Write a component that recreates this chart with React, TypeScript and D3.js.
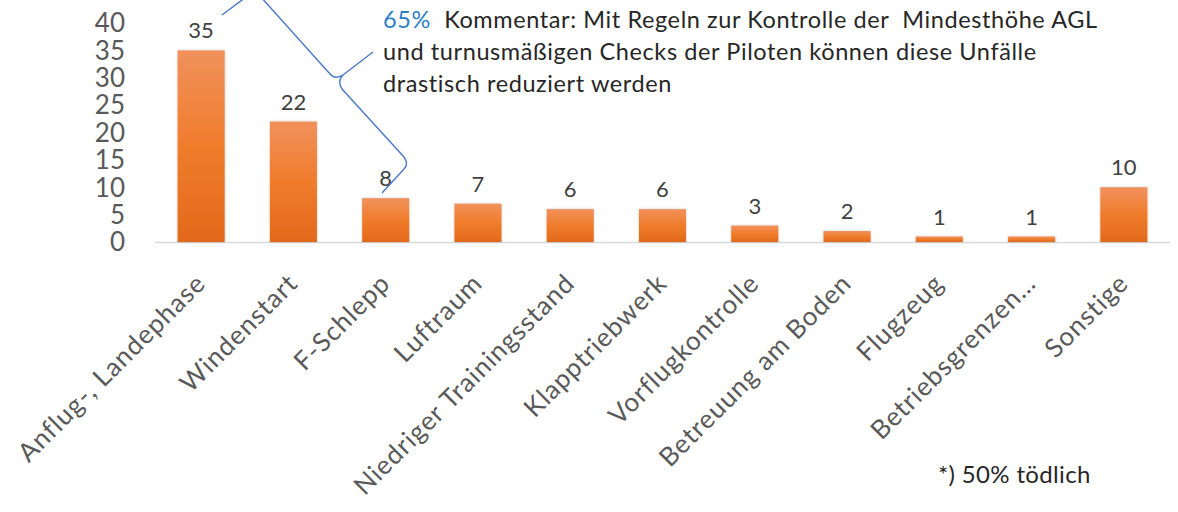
import { useEffect, useRef } from 'react';
import * as d3 from 'd3';

const categories = [
  'Anflug-, Landephase',
  'Windenstart',
  'F-Schlepp',
  'Luftraum',
  'Niedriger Trainingsstand',
  'Klapptriebwerk',
  'Vorflugkontrolle',
  'Betreuung am Boden',
  'Flugzeug',
  'Betriebsgrenzen…',
  'Sonstige',
];
const counts = [35, 22, 8, 7, 6, 6, 3, 2, 1, 1, 10];
const yTicks = [0, 5, 10, 15, 20, 25, 30, 35, 40];
const commentLines = [
  'Kommentar: Mit Regeln zur Kontrolle der  Mindesthöhe AGL',
  'und turnusmäßigen Checks der Piloten können diese Unfälle',
  'drastisch reduziert werden',
];
const commentShare = '65%';
const footnote = '*) 50% tödlich';

const W = 1178, H = 512;
const FONT = 'Lato, "Open Sans", sans-serif';

export default function App() {
  const svgRef = useRef<SVGSVGElement>(null);

  useEffect(() => {
    document.body.style.margin = '0';
    if (!svgRef.current) return;
    const svg = d3.select(svgRef.current);
    svg.selectAll('*').remove();

    const x = d3.scaleBand<string>().domain(categories).range([155, 1170]).paddingInner(0.49).paddingOuter(0.245);
    const y = d3.scaleLinear().domain([0, 40]).range([242, 23]);

    const defs = svg.append('defs');
    const grad = defs.append('linearGradient').attr('id', 'barGrad').attr('x1', 0).attr('y1', 0).attr('x2', 0).attr('y2', 1);
    grad.append('stop').attr('offset', '0%').attr('stop-color', '#F0915B');
    grad.append('stop').attr('offset', '50%').attr('stop-color', '#F07C2C');
    grad.append('stop').attr('offset', '100%').attr('stop-color', '#E2691B');
    const shadow = defs.append('filter').attr('id', 'barShadow').attr('x', '-20%').attr('y', '-20%').attr('width', '140%').attr('height', '140%');
    shadow.append('feDropShadow').attr('dx', 0).attr('dy', 0).attr('stdDeviation', 1.2).attr('flood-color', '#000').attr('flood-opacity', 0.25);

    // baseline
    svg.append('line')
      .attr('x1', 155).attr('x2', 1170).attr('y1', y(0) + 0.5).attr('y2', y(0) + 0.5)
      .attr('stroke', '#d9d9d9').attr('stroke-width', 1.5);

    // y tick labels
    svg.append('g').selectAll('text').data(yTicks).enter().append('text')
      .attr('x', 125).attr('y', d => y(d)).attr('dy', '0.36em')
      .attr('text-anchor', 'end').attr('fill', '#595959')
      .attr('font-family', FONT).attr('font-size', 26)
      .text(d => d);

    // bars
    svg.append('g').selectAll('rect').data(counts).enter().append('rect')
      .attr('x', (_, i) => x(categories[i])!)
      .attr('width', x.bandwidth())
      .attr('y', d => y(d))
      .attr('height', d => y(0) - y(d))
      .attr('fill', 'url(#barGrad)')
      .attr('filter', 'url(#barShadow)');

    // value labels
    svg.append('g').selectAll('text').data(counts).enter().append('text')
      .attr('x', (_, i) => x(categories[i])! + x.bandwidth() / 2)
      .attr('y', d => y(d) - 12)
      .attr('text-anchor', 'middle').attr('fill', '#404040')
      .attr('font-family', FONT).attr('font-size', 22)
      .text(d => d);

    // category labels, rotated
    svg.append('g').selectAll('text').data(categories).enter().append('text')
      .attr('transform', d => `translate(${x(d)! + x.bandwidth() / 2 + 6},${285}) rotate(-45)`)
      .attr('text-anchor', 'end').attr('fill', '#595959')
      .attr('font-family', FONT).attr('font-size', 26).attr('letter-spacing', 1)
      .text(d => d);

    // brace annotation
    svg.append('path')
      .attr('d', 'M222,15 L250,-6 Q256,-10 260,-4 L330,74 Q335,80 343,75 L373,52 M343,75 Q337,81 342,89 L404,157 Q409,164 404,169 L382,193')
      .attr('fill', 'none').attr('stroke', '#4a78c8').attr('stroke-width', 1.4);

    // comment
    const c = svg.append('text').attr('font-family', FONT).attr('font-size', 23.5).attr('letter-spacing', 0.6)
      .attr('fill', '#262626').style('white-space', 'pre');
    commentLines.forEach((line, i) => {
      const t = c.append('tspan').attr('x', 383).attr('y', 28 + i * 32);
      if (i === 0) {
        t.append('tspan').attr('fill', '#2E7DC8').text(commentShare);
        t.append('tspan').text('  ' + line);
      } else {
        t.text(line);
      }
    });

    svg.append('text')
      .attr('x', 938).attr('y', 483)
      .attr('font-family', FONT).attr('font-size', 24).attr('letter-spacing', 0.35).attr('fill', '#262626')
      .text(footnote);
  }, []);

  return <svg ref={svgRef} width={W} height={H} viewBox={`0 0 ${W} ${H}`} style={{ display: 'block', background: '#fff' }} />;
}
